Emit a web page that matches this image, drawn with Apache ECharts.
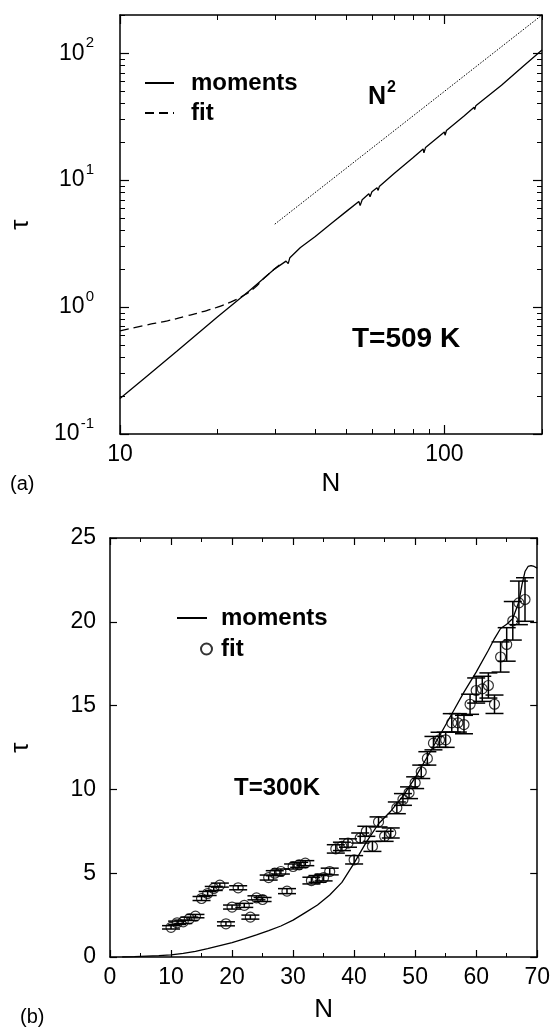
<!DOCTYPE html>
<html>
<head>
<meta charset="utf-8">
<script src="https://cdn.jsdelivr.net/npm/echarts@6/dist/echarts.min.js"></script>
<style>
  html, body { margin: 0; padding: 0; background: #fff; }
  #chart { width: 553px; height: 1030px; }
</style>
</head>
<body>
<div id="chart"></div>
<script>
// ---- Panel (a): T = 509 K, log-log ----
const momentsN_a   = [10, 12, 15, 20, 25, 28, 30, 32.5, 33, 33.4, 36, 40, 45, 50, 54.5, 55, 55.8, 58.5, 59, 59.8, 62, 62.5, 63, 70, 80, 86, 86.5, 87.5, 100, 100.5, 101.5, 115, 123.5, 124, 125, 150, 175, 200];
const momentsTau_a = [0.19, 0.28, 0.45, 0.84, 1.34, 1.72, 2.0, 2.3, 2.2, 2.45, 2.95, 3.6, 4.6, 5.7, 6.8, 6.3, 7.0, 7.8, 7.4, 8.1, 8.7, 8.3, 8.9, 11.3, 15.0, 17.6, 16.4, 18.1, 24.0, 22.6, 24.6, 32.0, 37.5, 36.0, 38.5, 56, 79, 106];
const fitN_a   = [10, 12, 14, 16, 18, 20, 22, 24, 26, 28, 30, 31];
const fitTau_a = [0.65, 0.72, 0.78, 0.85, 0.92, 1.0, 1.1, 1.23, 1.42, 1.72, 2.0, 2.15];
const powerN_a   = [30, 200];
const powerTau_a = [4.5, 200];
const xMajor_a = [10, 100];
const xMinor_a = [20, 30, 40, 50, 60, 70, 80, 90, 200];
const yMajor_a = [0.1, 1, 10, 100];
const yMinor_a = [0.2, 0.3, 0.4, 0.5, 0.6, 0.7, 0.8, 0.9, 2, 3, 4, 5, 6, 7, 8, 9, 20, 30, 40, 50, 60, 70, 80, 90, 200];

// ---- Panel (b): T = 300 K, linear ----
const momentsN_b   = [2, 4, 6, 8, 10, 12, 14, 16, 18, 20, 22, 24, 26, 28, 30, 32, 34, 36, 38, 40, 42, 44, 46, 48, 50, 52, 54, 56, 58, 60, 62, 63, 64, 65, 66, 67, 67.5, 68, 68.5, 69, 69.5, 70];
const momentsTau_b = [0, 0.02, 0.05, 0.08, 0.13, 0.22, 0.34, 0.5, 0.68, 0.86, 1.08, 1.32, 1.58, 1.85, 2.2, 2.65, 3.1, 3.7, 4.45, 5.6, 6.85, 7.95, 8.7, 9.6, 10.7, 11.95, 13.2, 14.5, 15.8, 17.0, 18.3, 19.0, 19.6, 19.85, 20.2, 21.2, 22.2, 23.0, 23.3, 23.35, 23.3, 23.2];
const fitN_b   = [10, 11, 12, 13, 14, 15, 16, 17, 18, 19, 20, 21, 22, 23, 24, 25, 26, 27, 28, 29, 30, 31, 32, 33, 34, 35, 36, 37, 38, 39, 40, 41, 42, 43, 44, 45, 46, 47, 48, 49, 50, 51, 52, 53, 54, 55, 56, 57, 58, 59, 60, 61, 62, 63, 64, 65, 66, 67, 68];
const fitTau_b = [1.77, 2.04, 2.1, 2.28, 2.44, 3.49, 3.79, 4.09, 4.29, 1.98, 2.98, 4.13, 3.08, 2.38, 3.53, 3.43, 4.74, 5.0, 5.1, 3.93, 5.4, 5.5, 5.6, 4.56, 4.66, 4.74, 5.1, 6.45, 6.6, 6.8, 5.8, 7.1, 7.5, 6.6, 8.06, 7.2, 7.4, 8.9, 9.4, 9.8, 10.4, 11.05, 11.85, 12.76, 12.96, 12.96, 13.97, 13.97, 13.87, 15.08, 15.9, 16.0, 16.2, 15.08, 17.9, 18.65, 20.06, 21.13, 21.33];
const fitErr_b = [0.1, 0.1, 0.1, 0.1, 0.1, 0.12, 0.12, 0.12, 0.12, 0.12, 0.12, 0.12, 0.12, 0.12, 0.12, 0.12, 0.15, 0.15, 0.15, 0.15, 0.15, 0.15, 0.15, 0.2, 0.2, 0.2, 0.2, 0.25, 0.25, 0.25, 0.25, 0.3, 0.3, 0.3, 0.3, 0.3, 0.3, 0.35, 0.35, 0.35, 0.35, 0.4, 0.4, 0.4, 0.45, 0.45, 0.55, 0.55, 0.55, 0.6, 0.75, 0.75, 0.75, 0.55, 0.9, 1.0, 1.15, 1.3, 1.3];
const xTicks_b = [0, 10, 20, 30, 40, 50, 60, 70];

const FONT = '"Liberation Sans", Arial, Helvetica, sans-serif';
const BLACK = '#000';

const pairs = (xs, ys) => xs.map((x, i) => [x, ys[i]]);

const powerLabel = v => {
  const p = Math.round(Math.log10(v));
  return '{b|10}{s|' + (p < 0 ? '-' + (-p) : p) + '}';
};

function frameAxis(extra) {
  return Object.assign({
    axisLine: { show: true, onZero: false, lineStyle: { color: BLACK, width: 1.5 } },
    axisTick: { show: true, inside: true, length: 9, lineStyle: { color: BLACK, width: 1.2 } },
    axisLabel: { show: false },
    splitLine: { show: false },
    minorSplitLine: { show: false }
  }, extra);
}
function tickOnlyAxis(extra, values) {
  return Object.assign({
    axisLine: { show: false, onZero: false },
    axisTick: { show: true, inside: true, length: 5, customValues: values, lineStyle: { color: BLACK, width: 1 } },
    axisLabel: { show: false },
    splitLine: { show: false }
  }, extra);
}

const logX = { gridIndex: 0, type: 'log', logBase: 10, min: 10, max: 200 };
const logY = { gridIndex: 0, type: 'log', logBase: 10, min: 0.1, max: 200 };
const linX = { gridIndex: 1, type: 'value', min: 0, max: 70, interval: 10 };
const linY = { gridIndex: 1, type: 'value', min: 0, max: 25, interval: 5 };

const tickLabelStyle = { color: BLACK, fontSize: 23, fontFamily: FONT };
const axisNameStyle = { color: BLACK, fontSize: 26, fontFamily: FONT };
const legendText = { fontSize: 24, fontWeight: 'bold', fontFamily: FONT, color: BLACK };

const option = {
  backgroundColor: '#fff',
  animation: false,
  grid: [
    { left: 110, top: 15, width: 432, height: 419, show: false },
    { left: 109, top: 538, width: 433, height: 419, show: false }
  ],
  xAxis: [
    frameAxis(Object.assign({}, logX, {
      position: 'bottom',
      axisTick: { show: true, inside: true, length: 9, customValues: xMajor_a, lineStyle: { color: BLACK, width: 1.2 } },
      axisLabel: Object.assign({ show: true, customValues: xMajor_a, margin: 9, formatter: v => String(Math.round(v)) }, tickLabelStyle),
      name: 'N', nameLocation: 'middle', nameGap: 37, nameTextStyle: axisNameStyle
    })),
    tickOnlyAxis(Object.assign({}, logX, { position: 'bottom' }), xMinor_a),
    frameAxis(Object.assign({}, logX, {
      position: 'top',
      axisTick: { show: true, inside: true, length: 9, customValues: xMajor_a, lineStyle: { color: BLACK, width: 1.2 } }
    })),
    tickOnlyAxis(Object.assign({}, logX, { position: 'top' }), xMinor_a),

    frameAxis(Object.assign({}, linX, {
      position: 'bottom',
      axisTick: { show: true, inside: true, length: 7, lineStyle: { color: BLACK, width: 1.2 } },
      minorTick: { show: true, splitNumber: 2, length: 4, lineStyle: { color: BLACK, width: 1 } },
      axisLabel: Object.assign({ show: true, margin: 9, customValues: xTicks_b }, tickLabelStyle),
      name: 'N', nameLocation: 'middle', nameGap: 40, nameTextStyle: axisNameStyle
    })),
    frameAxis(Object.assign({}, linX, {
      position: 'top',
      axisTick: { show: true, inside: true, length: 7, lineStyle: { color: BLACK, width: 1.2 } },
      minorTick: { show: true, splitNumber: 2, length: 4, lineStyle: { color: BLACK, width: 1 } }
    }))
  ],
  yAxis: [
    frameAxis(Object.assign({}, logY, {
      position: 'left',
      axisTick: { show: true, inside: true, length: 9, customValues: yMajor_a, lineStyle: { color: BLACK, width: 1.2 } },
      axisLabel: {
        show: true, customValues: yMajor_a, margin: 26, formatter: powerLabel,
        rich: {
          b: { fontSize: 23, fontFamily: FONT, color: BLACK },
          s: { fontSize: 15, fontFamily: FONT, color: BLACK, padding: [0, 0, 20, 1] }
        }
      },
      name: 'τ', nameLocation: 'middle', nameGap: 86, nameRotate: 90, nameTextStyle: axisNameStyle
    })),
    tickOnlyAxis(Object.assign({}, logY, { position: 'left' }), yMinor_a),
    frameAxis(Object.assign({}, logY, {
      position: 'right',
      axisTick: { show: true, inside: true, length: 9, customValues: yMajor_a, lineStyle: { color: BLACK, width: 1.2 } }
    })),
    tickOnlyAxis(Object.assign({}, logY, { position: 'right' }), yMinor_a),

    frameAxis(Object.assign({}, linY, {
      position: 'left',
      axisTick: { show: true, inside: true, length: 7, lineStyle: { color: BLACK, width: 1.2 } },
      axisLabel: Object.assign({ show: true, margin: 14 }, tickLabelStyle),
      name: 'τ', nameLocation: 'middle', nameGap: 76, nameRotate: 90, nameTextStyle: axisNameStyle
    })),
    frameAxis(Object.assign({}, linY, {
      position: 'right',
      axisTick: { show: true, inside: true, length: 7, lineStyle: { color: BLACK, width: 1.2 } }
    }))
  ],
  legend: [
    {
      data: ['momentsA', 'fitA'], orient: 'vertical', left: 144, top: 71, padding: 0,
      itemWidth: 29, itemHeight: 14, itemGap: 6, selectedMode: false,
      itemStyle: { opacity: 0 },
      formatter: n => n.slice(0, -1),
      textStyle: Object.assign({ padding: [0, 0, 0, 12] }, legendText)
    },
    {
      data: ['momentsB'], orient: 'vertical', left: 176, top: 606, padding: 0,
      itemWidth: 30, itemHeight: 14, selectedMode: false,
      itemStyle: { opacity: 0 },
      formatter: n => n.slice(0, -1),
      textStyle: Object.assign({ padding: [0, 0, 0, 9] }, legendText)
    },
    {
      data: ['fitB'], orient: 'vertical', left: 200, top: 637, padding: 0,
      itemWidth: 11, itemHeight: 11, selectedMode: false,
      formatter: n => n.slice(0, -1),
      textStyle: Object.assign({ padding: [0, 0, 0, 4] }, legendText)
    }
  ],
  graphic: [
    {
      type: 'text', left: 368, top: 80,
      style: {
        text: '{n|N}{s|2}', fill: BLACK,
        rich: {
          n: { fontSize: 25, fontWeight: 'bold', fontFamily: FONT, fill: BLACK },
          s: { fontSize: 16, fontWeight: 'bold', fontFamily: FONT, fill: BLACK, padding: [0, 0, 18, 1] }
        }
      }
    },
    { type: 'text', left: 352, top: 325, style: { text: 'T=509 K', fill: BLACK, font: 'bold 28px ' + FONT } },
    { type: 'text', left: 234, top: 776, style: { text: 'T=300K', fill: BLACK, font: 'bold 24px ' + FONT } },
    { type: 'text', left: 10, top: 474, style: { text: '(a)', fill: BLACK, font: '20px ' + FONT } },
    { type: 'text', left: 20, top: 1007, style: { text: '(b)', fill: BLACK, font: '20px ' + FONT } }
  ],
  series: [
    {
      name: 'momentsA', type: 'line', xAxisIndex: 0, yAxisIndex: 0, symbol: 'none',
      data: pairs(momentsN_a, momentsTau_a),
      lineStyle: { color: BLACK, width: 1.3 }, itemStyle: { color: BLACK }
    },
    {
      name: 'fitA', type: 'line', xAxisIndex: 0, yAxisIndex: 0, symbol: 'none', smooth: true,
      data: pairs(fitN_a, fitTau_a),
      lineStyle: { color: BLACK, width: 1.3, type: [9, 5] }, itemStyle: { color: BLACK }
    },
    {
      name: 'N2', type: 'line', xAxisIndex: 0, yAxisIndex: 0, symbol: 'none',
      data: pairs(powerN_a, powerTau_a),
      lineStyle: { color: BLACK, width: 1, type: [1.5, 1.5] }
    },
    {
      name: 'momentsB', type: 'line', xAxisIndex: 4, yAxisIndex: 4, symbol: 'none',
      data: pairs(momentsN_b, momentsTau_b),
      lineStyle: { color: BLACK, width: 1.3 }, itemStyle: { color: BLACK }
    },
    {
      name: 'fitErrB', type: 'custom', xAxisIndex: 4, yAxisIndex: 4,
      data: fitN_b.map((n, i) => [n, fitTau_b[i], fitErr_b[i]]),
      encode: { x: 0, y: 1 },
      renderItem: function (params, api) {
        const n = api.value(0), t = api.value(1), e = api.value(2);
        const hi = api.coord([n, t + e]);
        const lo = api.coord([n, t - e]);
        const half = 9;
        const style = { stroke: BLACK, lineWidth: 1.5, fill: null };
        return {
          type: 'group',
          children: [
            { type: 'line', shape: { x1: hi[0], y1: hi[1], x2: lo[0], y2: lo[1] }, style: style },
            { type: 'line', shape: { x1: hi[0] - half, y1: hi[1], x2: hi[0] + half, y2: hi[1] }, style: style },
            { type: 'line', shape: { x1: lo[0] - half, y1: lo[1], x2: lo[0] + half, y2: lo[1] }, style: style }
          ]
        };
      }
    },
    {
      name: 'fitB', type: 'scatter', xAxisIndex: 4, yAxisIndex: 4,
      symbol: 'circle', symbolSize: 10,
      data: pairs(fitN_b, fitTau_b),
      itemStyle: { color: 'rgba(255,255,255,0)', borderColor: BLACK, borderWidth: 1.2 }
    }
  ]
};

const chart = echarts.init(document.getElementById('chart'), null, { renderer: 'canvas' });
chart.setOption(option);
</script>
</body>
</html>
